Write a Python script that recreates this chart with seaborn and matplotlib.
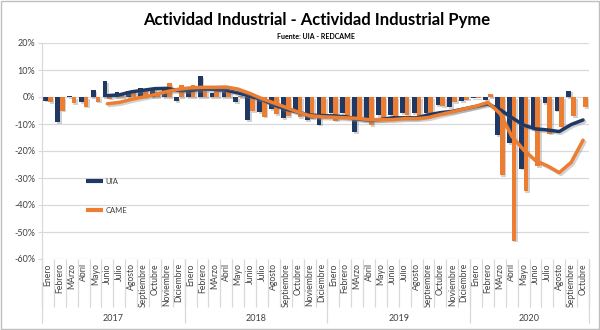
import numpy as np
import pandas as pd
import matplotlib
matplotlib.use("Agg")
import matplotlib.pyplot as plt
import matplotlib.patheffects as pe
from matplotlib.patches import Rectangle
import seaborn as sns

# Meses y años del eje de categorías
meses = ["Enero", "Febrero", "MArzo", "Abril", "Mayo", "Junio", "Julio",
         "Agosto", "Septiembre", "Octubre", "Noviembre", "Diciembre"]
anios = ["2017", "2018", "2019", "2020"]
meses_por_anio = [12, 12, 12, 10]

# Variación interanual (%) - UIA
uia = [-1.4, -9.3, 0.3, -1.8, 2.5, 5.9, 1.8, 2.2, 3.3, 3.5, 3.0, -1.5,
       1.8, 7.6, 1.5, 1.7, -2.0, -8.6, -5.5, -4.5, -7.9, -5.0, -8.5, -10.2,
       -6.0, -6.1, -13.0, -7.8, -6.7, -6.7, -6.1, -6.0, -6.1, -3.0, -3.7, -1.5,
       -0.4, -1.0, -14.1, -17.1, -26.6, -12.0, -2.2, -5.1, 2.4, None]

# Variación interanual (%) - CAME (industria pyme)
came = [-2.0, -5.1, -2.2, -3.6, -1.7, -0.6, 1.0, 1.6, 3.1, 2.0, 5.1, 4.3,
        4.3, 3.0, 3.0, 2.5, 0.5, -5.3, -7.3, -6.3, -7.0, -7.5, -8.0, -7.5,
        -8.8, -7.5, -8.3, -10.4, -8.0, -7.2, -6.5, -7.5, -6.0, -3.5, -2.0, -1.0,
        -0.5, 1.2, -29.0, -53.2, -34.9, -25.5, -13.6, -11.0, -7.1, -3.8]

# Tendencia (media móvil de 6 meses)
uia_tendencia = [None] * 5 + [
    0.5, 0.8, 1.9, 2.5, 3.1, 3.2, 2.4, 2.4, 3.0, 2.8, 2.5, 1.5, 0.3, -0.9,
    -2.9, -4.5, -5.6, -6.7, -6.9, -7.0, -7.3, -8.1, -8.6, -8.3, -7.7, -7.7,
    -7.7, -6.6, -5.8, -5.3, -4.4, -3.5, -2.6, -4.6, -7.6, -10.4, -11.8,
    -12.2, -12.8, -10.2, -8.5]
came_tendencia = [None] * 5 + [
    -2.5, -2.0, -0.9, 0.0, 0.9, 2.0, 2.9, 3.4, 3.6, 3.6, 3.7, 2.9, 1.3, -0.6,
    -2.2, -3.8, -5.5, -6.9, -7.3, -7.5, -7.7, -7.9, -8.4, -8.4, -8.4, -8.0,
    -8.0, -7.6, -6.5, -5.5, -4.4, -3.4, -2.0, -6.0, -14.5, -19.6, -23.5,
    -25.5, -28.0, -24.2, -16.0]

AZUL = "#1F3864"
NARANJA = "#ED7D31"
GRIS_TXT = "#404040"
GRIS_LIN = "#D9D9D9"

sns.set_theme(style="white")
plt.rcParams["font.family"] = ["Lato", "DejaVu Sans"]

etiquetas = [m for k in meses_por_anio for m in meses[:k]]
n = len(etiquetas)
pos = np.arange(n)

df = pd.DataFrame({
    "pos": np.tile(pos, 2),
    "valor": np.array(uia + came, dtype=float),
    "serie": ["UIA"] * n + ["CAME"] * n,
})

fig = plt.figure(figsize=(6, 3.3), dpi=100)
ax = fig.add_axes([0.07, 1 - 259 / 330, 547 / 600, 216 / 330])

sns.barplot(data=df, x="pos", y="valor", hue="serie", hue_order=["UIA", "CAME"],
            palette=[AZUL, NARANJA], width=0.8, saturation=1, errorbar=None,
            legend=False, ax=ax, zorder=2)
for p in ax.patches:
    p.set_linewidth(0)
    p.set_path_effects([pe.SimplePatchShadow(offset=(1.2, -1.2), shadow_rgbFace="#808080", alpha=0.35),
                        pe.Normal()])

sombra = [pe.SimpleLineShadow(offset=(1.3, -1.3), shadow_color="#808080", alpha=0.35), pe.Normal()]
sns.lineplot(x=pos, y=np.array(uia_tendencia, dtype=float), color=AZUL, linewidth=2.5,
             label="UIA", ax=ax, zorder=4)
sns.lineplot(x=pos, y=np.array(came_tendencia, dtype=float), color=NARANJA, linewidth=2.5,
             label="CAME", ax=ax, zorder=4)
for ln in ax.lines:
    ln.set_path_effects(sombra)
    ln.set_solid_capstyle("round")

ax.set_xlim(-0.5, n - 0.5)
ax.set_ylim(-60, 20)
ax.set_yticks(np.arange(-60, 21, 10))
ax.set_yticklabels([f"{v}%" for v in range(-60, 21, 10)], fontsize=6.5, color=GRIS_TXT)
ax.yaxis.grid(True, color=GRIS_LIN, linewidth=0.9, zorder=0)
ax.set_axisbelow(True)
ax.tick_params(axis="y", length=3, width=0.8, color=GRIS_LIN, pad=2, left=True)

ax.set_xticks(pos)
ax.set_xticklabels(etiquetas, rotation=90, fontsize=6.2, color=GRIS_TXT)
ax.tick_params(axis="x", length=0, pad=3)
ax.set_xlabel("")
ax.set_ylabel("")

for s in ["top", "right", "bottom"]:
    ax.spines[s].set_visible(False)
ax.spines["left"].set_color(GRIS_LIN)
ax.spines["left"].set_linewidth(0.9)

# Separadores del eje de categorías (meses y años)
tr = ax.get_xaxis_transform()
bordes = np.arange(n + 1) - 0.5
ax.vlines(bordes, -0.222, 0, transform=tr, colors=GRIS_LIN, linewidth=0.9, clip_on=False)
inicio = 0
cortes = [-0.5]
for k, anio in zip(meses_por_anio, anios):
    centro = inicio + (k - 1) / 2
    ax.text(centro, -0.275, anio, transform=tr, ha="center", va="center",
            fontsize=6.5, color=GRIS_TXT)
    inicio += k
    cortes.append(inicio - 0.5)
ax.vlines(cortes, -0.296, 0, transform=tr, colors=GRIS_LIN, linewidth=0.9, clip_on=False)

# Leyenda
h, l = ax.get_legend_handles_labels()
leg = ax.legend(h, l, loc="upper left", bbox_to_anchor=(0.08, 0.375), frameon=False,
                fontsize=5.5, handlelength=2.2, handletextpad=0.4, labelspacing=2.9,
                borderpad=0, borderaxespad=0)
for t in leg.get_texts():
    t.set_color(GRIS_TXT)
for hl in leg.get_lines():
    hl.set_path_effects([])
    hl.set_solid_capstyle("butt")
    hl.set_linewidth(3)

fig.text(0.527, 0.939, "Actividad Industrial - Actividad Industrial Pyme",
         ha="center", va="center", fontsize=12, fontweight="bold", color="black")
fig.text(0.527, 0.89, "Fuente: UIA - REDCAME", ha="center", va="center",
         fontsize=5, fontweight="bold", color="black")

fig.patches.append(Rectangle((0.002, 0.003), 0.996, 0.994, transform=fig.transFigure,
                             fill=False, edgecolor="#BFBFBF", linewidth=1))

fig.savefig("out.png", dpi=100)
